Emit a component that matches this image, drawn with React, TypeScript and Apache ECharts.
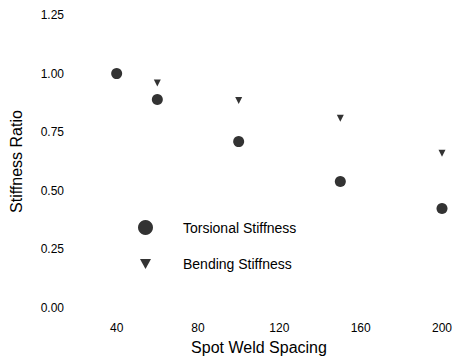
import React, { useEffect, useRef } from "react";
import * as echarts from "echarts";

const spacing = [40, 60, 100, 150, 200];
const torsional = [1.0, 0.89, 0.71, 0.54, 0.425];
const bendingSpacing = [60, 100, 150, 200];
const bending = [0.96, 0.885, 0.81, 0.66];
const seriesNames = ["Torsional Stiffness", "Bending Stiffness"];

const TRI = "path://M0,0L10,0L5,9Z";
const FONT = "Liberation Sans, Arial, sans-serif";

export default function App() {
  const ref = useRef<HTMLDivElement>(null);
  useEffect(() => {
    const chart = echarts.init(ref.current!, null, { renderer: "svg" });
    chart.setOption({
      animation: false,
      backgroundColor: "#fff",
      textStyle: { fontFamily: FONT, color: "#000" },
      grid: { left: 75, right: 10, top: 15, bottom: 47 },
      legend: [
        {
          data: [{ name: seriesNames[0], icon: "circle" }],
          left: 138,
          top: 220,
          padding: 0,
          itemWidth: 15,
          itemHeight: 15,
          textStyle: { fontSize: 14, color: "#000", fontFamily: FONT, padding: [0, 0, 0, 25] },
        },
        {
          data: [{ name: seriesNames[1], icon: TRI }],
          left: 140,
          top: 257,
          padding: 0,
          itemWidth: 11,
          itemHeight: 11,
          textStyle: { fontSize: 14, color: "#000", fontFamily: FONT, padding: [0, 0, 0, 27] },
        },
      ],
      xAxis: {
        type: "value",
        min: 20,
        max: 200,
        interval: 20,
        name: "Spot Weld Spacing",
        nameLocation: "middle",
        nameGap: 27,
        nameTextStyle: { fontSize: 16, color: "#000", fontFamily: FONT },
        axisLine: { show: false },
        axisTick: { show: false },
        splitLine: { show: false },
        axisLabel: {
          fontSize: 12,
          color: "#000",
          margin: 14,
          formatter: (v: number) => (v % 40 === 0 ? String(v) : ""),
        },
      },
      yAxis: {
        type: "value",
        min: 0,
        max: 1.25,
        interval: 0.25,
        name: "Stiffness Ratio",
        nameLocation: "middle",
        nameGap: 52,
        nameTextStyle: { fontSize: 16, color: "#000", fontFamily: FONT },
        axisLine: { show: false },
        axisTick: { show: false },
        splitLine: { show: false },
        axisLabel: {
          fontSize: 12,
          color: "#000",
          margin: 12,
          formatter: (v: number) => v.toFixed(2),
        },
      },
      series: [
        {
          name: seriesNames[0],
          type: "scatter",
          symbol: "circle",
          symbolSize: 11,
          itemStyle: { color: "#000" },
          data: spacing.map((x, i) => [x, torsional[i]]),
        },
        {
          name: seriesNames[1],
          type: "scatter",
          symbol: TRI,
          symbolSize: [7, 7],
          itemStyle: { color: "#000" },
          data: bendingSpacing.map((x, i) => [x, bending[i]]),
        },
      ],
    });
    return () => chart.dispose();
  }, []);
  return <div ref={ref} style={{ width: 455, height: 360, position: "absolute", left: 0, top: 0 }} />;
}
